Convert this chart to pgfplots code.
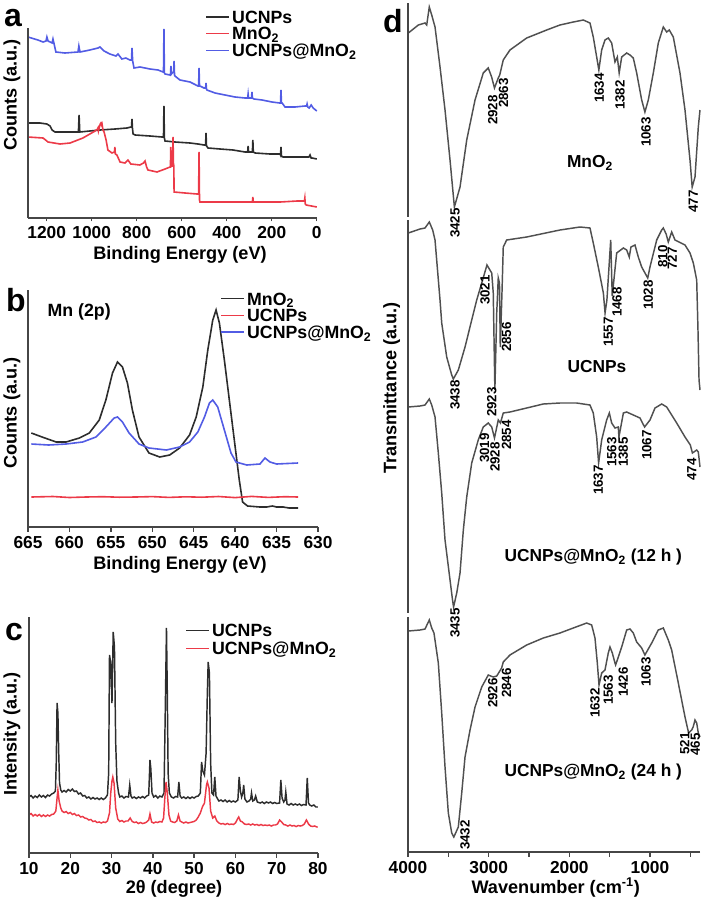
\documentclass[border=0pt]{standalone}
\usepackage{fontspec}
\setmainfont{Liberation Sans}
\usepackage{pgfplots}
\pgfplotsset{compat=1.18}
\definecolor{cblk}{RGB}{45,45,45}
\definecolor{cred}{RGB}{236,58,72}
\definecolor{cblu}{RGB}{82,92,228}
\definecolor{cgry}{RGB}{80,80,80}
\definecolor{caxis}{RGB}{70,70,70}
\newcommand{\tickfont}{\fontsize{13}{15}\selectfont\bfseries}
\newcommand{\dtickfont}{\fontsize{13}{15}\selectfont\bfseries}
\newcommand{\labfont}{\fontsize{13.6}{16}\selectfont\bfseries}
\newcommand{\legfont}{\fontsize{13.3}{15}\selectfont\bfseries}
\newcommand{\pkfont}{\fontsize{10}{12}\selectfont\bfseries}
\newcommand{\namefont}{\fontsize{13}{15}\selectfont\bfseries}
\newcommand{\panfont}{\fontsize{24}{26}\selectfont\bfseries}
\pgfplotsset{
 common/.style={scale only axis, axis x line*=bottom, axis y line=none, clip=false, ytick=\empty,
   x axis line style={caxis, line width=1.5pt},
   /pgf/number format/assume math mode=true, /pgf/number format/1000 sep={},
   xticklabel style={font=\tickfont},
   tick style={caxis, line width=1pt},
   major tick length=3.5pt, minor tick length=3.5pt, tick align=outside,
   legend cell align=left,
   legend image code/.code={\draw[##1] (0pt,0pt) -- (17pt,0pt);},
 },
}
\tikzset{pk/.style={rotate=90, anchor=east, font=\pkfont, inner sep=0pt}}
\begin{document}
\begin{tikzpicture}
\path[use as bounding box] (0,0) rectangle (528pt,-675pt);
% ---------------- panel a
\begin{axis}[common, at={(21pt,-163.5pt)}, anchor=south west, width=216.75pt, height=142.5pt,
 x dir=reverse, xmin=-1, xmax=1283, ymin=0, ymax=190, xtick={0,200,...,1200}, major tick length=2.5pt,
 legend style={at={(axis description cs:0.6125,1.105)}, anchor=north west, draw=none, fill=none,
   inner sep=0pt, row sep=0pt, column sep=2pt, font=\legfont,
   nodes={inner sep=0pt, text height=11.1pt, text depth=1.5pt}}]
\addplot[cblk, line width=1.2pt] coordinates {
(1283,95)(1230,95)(1199,94)(1185,92)(1176,88)(1163,86)(1065,86)(1059,86)(1056,103)(1053,86)
(1008,87)(963,88)(896,89)(843,90)(826,91)(823,91)(821,99)(819,90)(816,84)(807,83)(741,82)
(687,81)(681,81)(679,112)(677,80)(674,77)(630,76)(563,75)(528,74)(501,73)(494,73)(492,85)
(490,72)(483,70)(430,69)(372,68)(319,66)(307,66)(305,72)(303,66)(297,66)(286,66)(284,78)
(282,66)(274,65)(208,64)(163,64)(161,63)(159,71)(157,62)(150,61)(97,61)(52,61)(35,61)
(30,63)(25,60)(21,60)(0,59)};
\addlegendentry{UCNPs}
\addplot[cred, line width=1.2pt] coordinates {
(1283,81)(1216,80)(1194,76)(1141,74)(1096,75)(1039,80)(985,87)(974,89)(972,90)(970,87)
(962,94)(959,95)(956,93)(954,94)(950,88)(945,86)(936,78)(928,68)(910,65)(899,66)(897,71)
(895,64)(888,63)(874,56)(852,55)(839,58)(826,54)(786,53)(770,55)(763,57)(756,51)(750,48)
(710,46)(674,49)(652,51)(650,51)(649,71)(647,52)(641,52)(638.5,81)(637,55)(635,52)(634,26)
(585,25)(532,24)(525,24)(523,66)(521,18)(519,16)(430,16)(288,16)(286,16)(284,21)(282,16)
(163,16)(87,17)(55,17)(53,20)(51,14)(47,13)(0,11)};
\addlegendentry{MnO\textsubscript{2}}
\addplot[cblu, line width=1.2pt] coordinates {
(1283,181)(1239,178)(1216,176)(1203,177)(1199,181)(1194,177)(1176,175)(1172,179)(1167,174)
(1159,166)(1119,165)(1061,166)(1057,172)(1052,166)(1008,168)(972,170)(963,171)(945,167)
(919,164)(892,162)(883,164)(866,159)(848,160)(830,158)(823,158)(821,170)(818,157)(812,150)
(785,151)(741,149)(705,148)(683,146)(681,146)(679,189)(677,145)(674,144)(652,143)(650,143)
(648,152)(646,144)(643,145)(636,146)(634,157)(632,143)(630,142)(608,138)(563,136)(528,132)
(525,132)(523,150)(521,132)(519,132)(501,130)(494,130)(492,135)(490,129)(488,128)(452,125)
(408,123)(363,121)(319,120)(307,120)(305,124)(303,120)(297,120)(290,120)(288,126)(286,120)
(279,119)(243,118)(199,116)(165,115)(161,115)(159,128)(157,115)(154,115)(141,111)(97,111)
(52,112)(45,112)(43,114)(40,111)(34,110)(25,113)(16,110)(0,107)};
\addlegendentry{UCNPs@MnO\textsubscript{2}}
\draw[caxis, line width=1.5pt] (axis cs:1283,0) -- (axis cs:1283,190);
\end{axis}
% ---------------- panel b
\begin{axis}[common, at={(21pt,-395.25pt)}, anchor=south west, width=217.5pt, height=177.75pt,
 x dir=reverse, xmin=630, xmax=665, ymin=0, ymax=237, xtick={630,635,...,665},
 legend style={at={(axis description cs:0.662,1.0)}, anchor=north west, draw=none, fill=none,
   inner sep=0pt, row sep=0pt, column sep=2pt, font=\legfont,
   nodes={inner sep=0pt, text height=11.1pt, text depth=1.5pt}}]
\addplot[cblk, line width=1.2pt] coordinates {
(664.6,94)(663.3,90)(661.6,85)(660.4,85)(658.8,89)(657.6,94)(656.4,107)(655.6,127)(654.8,154)
(654.2,165)(653.6,160)(653.0,144)(652.4,117)(651.6,90)(650.4,74)(649.1,70)(647.9,72)(646.7,79)
(645.5,92)(644.7,110)(643.9,140)(643.3,177)(642.7,207)(642.3,217)(641.9,204)(641.3,167)
(640.7,127)(640.1,87)(639.5,47)(639.1,25)(638.5,21)(637.0,20)(636.2,20)(635.5,21)(635.0,20)
(634.2,20)(633.5,19)(632.4,19)};
\addlegendentry{MnO\textsubscript{2}}
\addplot[cred, line width=1.2pt] coordinates {
(664.6,30)(662,30.5)(660,29.5)(658,30)(656,30.3)(654,29.8)(652,30)(650,30.4)(648,29.6)
(646,30.2)(644,29.8)(642,30.5)(640,29.4)(638,30.6)(636,29.6)(634,30.3)(632.4,30)};
\addlegendentry{UCNPs}
\addplot[cblu, line width=1.2pt] coordinates {
(664.6,83)(662.5,82)(660.4,83)(658.4,85)(656.8,90)(655.6,100)(654.6,109)(654.2,110)(653.6,105)
(652.8,94)(651.6,83)(650.4,79)(648.3,77)(646.7,80)(645.5,85)(644.5,95)(643.7,110)(643.1,124)
(642.7,127)(642.1,120)(641.3,97)(640.5,74)(639.9,65)(638.6,62)(637.0,63)(636.4,69)(635.8,65)
(635.0,63)(632.4,64)};
\addlegendentry{UCNPs@MnO\textsubscript{2}}
\draw[caxis, line width=1.5pt] (axis cs:665,0) -- (axis cs:665,237);
\end{axis}
% ---------------- panel c
\begin{axis}[common, at={(21.75pt,-639.75pt)}, anchor=south west, width=216.75pt, height=177pt,
 xmin=10, xmax=80, ymin=0, ymax=236, xtick={10,20,...,80},
 legend style={at={(axis description cs:0.54,0.983)}, anchor=north west, draw=none, fill=none,
   inner sep=0pt, row sep=0pt, column sep=2pt, font=\legfont,
   nodes={inner sep=0pt, text height=11.55pt, text depth=1.95pt}}]
\addplot[cblk, line width=1.1pt] coordinates {
(10.0,56)(10.5,57.5)(11.0,55)(11.5,57)(12.0,55.5)(12.5,58)(13.0,56)(13.5,57.5)(14.0,55.5)
(14.5,58)(15.0,57)(15.5,59)(16.0,60)(16.4,62)(16.6,90)(16.8,150)(17.0,140)(17.2,100)(17.4,70)
(17.7,63)(18.0,61)(18.5,62.5)(19.0,61)(19.5,63.5)(20.0,62)(20.5,64)(21.0,61.5)(21.5,62)
(22.0,59)(22.5,60)(23.0,57)(23.5,57.5)(24.0,55)(24.5,56)(25.0,54)(25.5,55.5)(26.0,54)
(26.5,55)(27.0,53.5)(27.5,55)(28.0,53.5)(28.5,55)(29.0,58)(29.3,80)(29.5,198)(29.8,190)
(30.1,150)(30.4,221)(30.7,206)(31.0,110)(31.3,72)(31.7,60)(32.0,56)(32.5,57)(33.0,55)
(33.5,56.5)(34.1,56)(34.4,68)(34.7,57)(35.0,55)(35.5,56)(36.0,54.5)(36.5,56)(37.0,55)
(37.5,56.5)(38.0,55)(38.5,57)(39.0,58)(39.3,93)(39.5,85)(39.8,60)(40.2,56)(40.7,57.5)
(41.2,55)(41.7,57)(42.2,56)(42.7,60)(43.0,140)(43.3,225)(43.5,160)(43.7,80)(44.0,60)
(44.5,56)(45.0,55)(45.5,56.5)(46.0,56)(46.3,71)(46.6,57)(47.0,55)(47.5,56)(48.0,54.5)
(48.5,56)(49.0,54.5)(49.5,56)(50.0,55)(50.5,56.5)(51.0,57)(51.5,60)(51.8,91)(52.1,82)
(52.5,78)(52.9,100)(53.2,160)(53.4,191)(53.7,180)(54.0,90)(54.3,60)(54.7,58)(55.0,76)
(55.3,57)(55.7,54)(56.0,52)(56.5,53)(57.0,51.5)(57.5,53)(58.0,51)(58.5,52.5)(59.0,51)
(59.5,52)(60.0,51)(60.6,53)(60.9,76)(61.2,62)(61.5,56)(61.8,60)(62.0,68)(62.3,54)(62.8,51)
(63.3,52)(63.7,54)(63.9,60)(64.2,52)(64.6,53)(64.9,57)(65.3,51)(66.0,50)(66.5,51)(67.0,49.5)
(67.5,51)(68.0,50)(68.5,51)(69.0,49.5)(69.5,50.5)(70.0,49.5)(70.7,50)(71.0,73)(71.3,55)
(71.7,51)(72.0,53)(72.2,61)(72.5,49)(73.0,48)(73.5,49.5)(74.0,48)(74.5,49)(75.0,48)
(75.5,49)(76.0,47.5)(76.5,48.5)(77.1,48)(77.4,75)(77.7,50)(78.0,48)(78.5,47)(79.0,48)
(79.5,46)(80.0,46)};
\addlegendentry{UCNPs}
\addplot[cred, line width=1.1pt] coordinates {
(10.0,38)(10.5,39.5)(11.0,37)(11.5,38.5)(12.0,37)(12.5,38.5)(13.0,36.5)(13.5,38)(14.0,36.5)
(14.5,38)(15.0,37)(15.5,38.5)(16.0,39)(16.5,42)(16.8,55)(17.0,63)(17.3,52)(17.7,45)(18.0,42)
(18.5,40.5)(19.0,41.5)(19.5,39.5)(20.0,40.5)(20.5,38.5)(21.0,39.5)(21.5,37.5)(22.0,38)
(22.5,36)(23.0,36.5)(23.5,35)(24.0,34.5)(24.5,33)(25.0,33.5)(25.5,31.5)(26.0,32)(26.5,30.5)
(27.0,31)(27.5,30)(28.0,31)(28.5,30.5)(29.0,32)(29.5,40)(29.8,60)(30.1,72)(30.3,76)(30.6,70)
(31.0,45)(31.5,34)(32.0,31.5)(32.5,32.5)(33.0,31)(33.5,32)(34.0,32)(34.5,35)(35.0,31.5)
(35.5,30.5)(36.0,31)(36.5,29.5)(37.0,30.5)(37.5,29.5)(38.0,30)(38.5,31)(39.0,33)(39.3,39)
(39.7,31)(40.2,30)(40.7,31)(41.2,30.5)(41.7,31.5)(42.2,31)(42.6,35)(42.9,55)(43.2,71)
(43.5,60)(43.9,38)(44.3,32)(44.8,31)(45.3,30.5)(45.8,32)(46.2,38)(46.6,32)(47.0,31)(47.5,30)
(48.0,31)(48.5,30)(49.0,30.5)(49.5,31)(50.0,31.5)(50.5,33)(51.0,36)(51.5,40)(52.0,46)
(52.5,50)(53.0,68)(53.2,71)(53.6,65)(54.0,42)(54.5,35)(55.0,37)(55.5,32)(56.0,30)(56.5,29)
(57.0,29.5)(57.5,28.5)(58.0,29.5)(58.5,28.5)(59.0,29)(59.5,28.5)(60.0,30)(60.5,34)(60.8,36)
(61.2,32)(61.7,31)(62.2,29)(62.7,28.5)(63.2,29)(63.7,28)(64.2,29)(64.7,28)(65.2,28.5)
(65.7,27.5)(66.2,28.5)(66.7,27.5)(67.2,28)(67.7,27.5)(68.2,28)(68.7,27)(69.2,28)(69.7,28)
(70.2,29)(70.7,33)(71.2,31)(71.7,28.5)(72.2,28)(72.7,27)(73.2,28)(73.7,27)(74.2,27.5)
(74.7,26.5)(75.2,27.5)(75.7,27)(76.2,27.5)(76.7,29)(77.2,33)(77.7,29)(78.2,27)(78.7,26.5)
(79.2,27)(79.7,26)(80.0,26)};
\addlegendentry{UCNPs@MnO\textsubscript{2}}
\draw[caxis, line width=1.5pt] (axis cs:10,0) -- (axis cs:10,236);
\end{axis}
% ---------------- panel d
\begin{axis}[common, at={(306pt,-639pt)}, anchor=south west, width=219pt, height=636.75pt,
 x dir=reverse, xmin=380, xmax=4000, ymin=0, ymax=849,
 xtick={1000,2000,3000,4000}, minor xtick={500,1500,2500,3500},
 xticklabel style={font=\dtickfont}]
\addplot[cgry, line width=1.1pt] coordinates {
(3996,819)(3872,827)(3789,829)(3768,827)(3736,845)(3706,837)(3665,825)(3603,785)(3541,742)
(3479,692)(3425,645)(3355,665)(3272,712)(3169,752)(3067,779)(3005,784)(2963,775)(2928,764)
(2881,774)(2863,777)(2819,792)(2736,802)(2529,814)(2281,822)(2116,827)(1951,830)(1827,832)
(1744,829)(1703,815)(1661,795)(1634,782)(1599,802)(1558,812)(1517,814)(1475,809)(1434,790)
(1405,795)(1382,779)(1351,795)(1289,799)(1248,797)(1207,794)(1165,779)(1103,752)(1063,740)
(1021,752)(959,779)(897,809)(835,825)(793,820)(761,822)(711,815)(628,779)(566,742)(504,692)
(477,665)(442,675)(401,725)(380,742)};
\addplot[cgry, line width=1.1pt] coordinates {
(3996,619)(3851,623)(3789,624)(3736,630)(3694,622)(3665,612)(3603,552)(3582,529)(3520,495)
(3458,477)(3438,473)(3376,482)(3293,505)(3210,532)(3148,552)(3086,569)(3021,587)(2962,579)
(2943,559)(2923,462)(2900,539)(2881,574)(2866,569)(2856,505)(2835,559)(2819,605)(2777,612)
(2529,615)(2116,622)(1868,625)(1744,624)(1703,609)(1641,585)(1578,559)(1557,539)(1534,552)
(1487,612)(1468,556)(1413,599)(1330,604)(1289,602)(1257,595)(1236,605)(1186,607)(1145,595)
(1103,585)(1028,574)(1000,585)(917,612)(855,622)(835,624)(800,618)(773,610)(731,620)
(690,612)(566,607)(504,599)(463,589)(421,572)(405,522)(392,472)(380,462)};
\addplot[cgry, line width=1.1pt] coordinates {
(3996,445)(3851,446)(3789,447)(3736,453)(3706,447)(3665,435)(3624,399)(3582,359)(3541,312)
(3479,272)(3448,252)(3435,245)(3396,259)(3355,279)(3314,322)(3272,355)(3210,389)(3129,412)
(3067,425)(3005,429)(2962,425)(2928,414)(2881,432)(2854,429)(2819,439)(2736,440)(2529,444)
(2323,448)(2116,449)(1909,449)(1744,447)(1703,439)(1661,415)(1637,389)(1599,412)(1537,432)
(1504,439)(1475,429)(1434,424)(1393,425)(1385,415)(1330,439)(1289,440)(1207,437)(1124,434)
(1067,425)(1000,432)(938,444)(855,448)(793,445)(669,429)(566,415)(500,407)(474,399)
(421,402)(401,400)(380,385)};
\addplot[cgry, line width=1.1pt] coordinates {
(3996,221)(3851,222)(3789,223)(3736,232)(3706,224)(3678,219)(3624,189)(3582,139)(3541,85)
(3500,39)(3458,19)(3432,15)(3376,25)(3334,59)(3293,95)(3231,122)(3169,145)(3086,165)
(3005,177)(2943,175)(2900,176)(2839,184)(2819,190)(2736,197)(2529,207)(2323,214)(2116,219)
(1951,224)(1785,229)(1723,227)(1682,214)(1653,189)(1632,167)(1599,179)(1558,182)(1517,199)
(1496,205)(1467,199)(1434,189)(1426,187)(1351,205)(1289,222)(1248,223)(1207,219)(1165,210)
(1103,204)(1063,197)(979,209)(897,222)(835,224)(773,212)(731,202)(649,169)(566,135)
(521,119)(483,122)(465,125)(442,132)(421,129)(401,119)(380,115)};
\draw[caxis, line width=1.5pt] (axis cs:4000,849) -- (axis cs:4000,635);
\draw[caxis, line width=1.5pt] (axis cs:4000,632) -- (axis cs:4000,239);
\draw[caxis, line width=1.5pt] (axis cs:4000,235) -- (axis cs:4000,0);
% labels MnO2
\node[pk] at (axis cs:3417,644) {3425};
\node[pk] at (axis cs:2950,757) {2928};
\node[pk] at (axis cs:2815,774) {2863};
\node[pk] at (axis cs:1629,779) {1634};
\node[pk] at (axis cs:1372,772) {1382};
\node[pk] at (axis cs:1050,735) {1063};
\node[pk] at (axis cs:463,662) {477};
\node[font=\namefont] at (axis cs:1744,689) {MnO\textsubscript{2}};
% labels UCNPs
\node[pk] at (axis cs:3417,472) {3438};
\node[pk] at (axis cs:2962,465) {2923};
\node[pk] at (axis cs:3045,577) {3021};
\node[pk] at (axis cs:2777,530) {2856};
\node[pk] at (axis cs:1517,535) {1557};
\node[pk] at (axis cs:1410,565) {1468};
\node[pk] at (axis cs:1021,572) {1028};
\node[pk] at (axis cs:842,607) {810};
\node[pk] at (axis cs:724,605) {727};
\node[font=\namefont] at (axis cs:1657,485) {UCNPs};
% labels 12 h
\node[pk] at (axis cs:3050,419) {3019};
\node[pk] at (axis cs:2922,410) {2928};
\node[pk] at (axis cs:2777,432) {2854};
\node[pk] at (axis cs:1641,387) {1637};
\node[pk] at (axis cs:1475,415) {1563};
\node[pk] at (axis cs:1330,415) {1385};
\node[pk] at (axis cs:1041,422) {1067};
\node[pk] at (axis cs:483,394) {474};
\node[pk] at (axis cs:3417,244) {3435};
\node[font=\namefont] at (axis cs:1703,295) {UCNPs@MnO\textsubscript{2} (12 h )};
% labels 24 h
\node[pk] at (axis cs:3293,32) {3432};
\node[pk] at (axis cs:2950,174) {2926};
\node[pk] at (axis cs:2777,184) {2846};
\node[pk] at (axis cs:1682,164) {1632};
\node[pk] at (axis cs:1517,177) {1563};
\node[pk] at (axis cs:1330,185) {1426};
\node[pk] at (axis cs:1050,195) {1063};
\node[pk] at (axis cs:570,120) {521};
\node[pk] at (axis cs:440,119) {465};
\node[font=\namefont] at (axis cs:1703,80) {UCNPs@MnO\textsubscript{2} (24 h )};
\end{axis}
% ---------------- texts
\node[font=\panfont] at (9.75pt,-13.5pt) {a};
\node[font=\panfont] at (12pt,-225pt) {b};
\node[font=\panfont] at (10.5pt,-474pt) {c};
\node[font=\panfont] at (294.75pt,-15.75pt) {d};
\node[font=\labfont, rotate=90] at (9pt,-71.25pt) {Counts (a.u.)};
\node[font=\labfont, rotate=90] at (9pt,-309.75pt) {Counts (a.u.)};
\node[font=\labfont, rotate=90] at (9pt,-550.5pt) {Intensity (a.u.)};
\node[font=\labfont, rotate=90] at (293.8pt,-291pt) {Transmittance (a.u.)};
\node[font=\labfont, anchor=base] at (135pt,-194.25pt) {Binding Energy (eV)};
\node[font=\labfont, anchor=base] at (135pt,-426.75pt) {Binding Energy (eV)};
\node[font=\labfont, anchor=base] at (130.5pt,-669.75pt) {2θ (degree)};
\node[font=\labfont, anchor=base] at (416.8pt,-669.75pt) {Wavenumber (cm\textsuperscript{-1})};
\node[font=\legfont, anchor=west] at (32.25pt,-234pt) {Mn (2p)};
\end{tikzpicture}
\end{document}
